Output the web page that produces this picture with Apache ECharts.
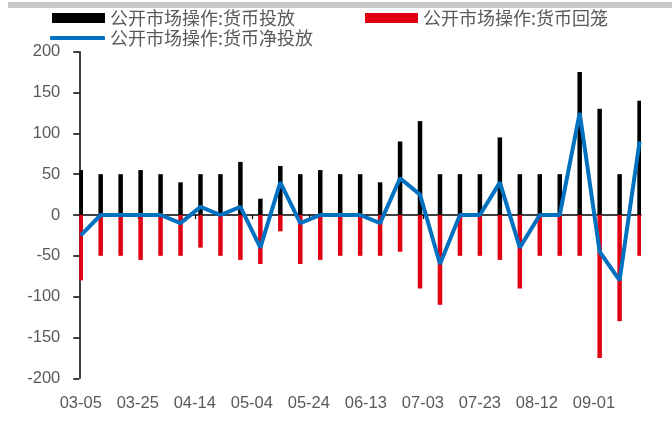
<!DOCTYPE html>
<html>
<head>
<meta charset="utf-8">
<script src="https://cdn.jsdelivr.net/npm/echarts@6/dist/echarts.min.js"></script>
<style>html,body{margin:0;padding:0;background:#fff}#c{width:672px;height:441px}</style>
</head>
<body>
<div id="c"></div>
<script>
// weekly observation dates (MM-DD)
const weekDates = ['03-05','03-12','03-19','03-26','04-02','04-09','04-16','04-23','04-30','05-07','05-14','05-21','05-28','06-04','06-11','06-18','06-25','07-02','07-09','07-16','07-23','07-30','08-06','08-13','08-20','08-27','09-03','09-10','09-17'];
const injectVals = [55,50,50,55,50,40,50,50,65,20,60,50,55,50,50,40,90,115,50,50,50,95,50,50,50,175,130,50,140];
const withdrawVals = [-80,-50,-50,-55,-50,-50,-40,-50,-55,-60,-20,-60,-55,-50,-50,-50,-45,-90,-110,-50,-50,-55,-90,-50,-50,-50,-175,-130,-50];
const netVals = [-25,0,0,0,0,-10,10,0,10,-40,40,-10,0,0,0,-10,45,25,-60,0,0,40,-40,0,0,125,-45,-80,90];
const tickLabels = ['03-05','03-25','04-14','05-04','05-24','06-13','07-03','07-23','08-12','09-01'];
const yTicks = [-200,-150,-100,-50,0,50,100,150,200];
const seriesNames = ['公开市场操作:货币投放','公开市场操作:货币回笼','公开市场操作:货币净投放'];

// build a daily category axis spanning the weekly dates
function pad(n){return (n<10?'0':'')+n;}
const days = [];
{
  const start = new Date(2021, 2, 5);
  const end = new Date(2021, 8, 17);
  for (let d = new Date(start); d <= end; d.setDate(d.getDate()+1)) {
    days.push(pad(d.getMonth()+1) + '-' + pad(d.getDate()));
  }
}
function toDaily(vals){
  const m = {};
  weekDates.forEach((w,i)=>{m[w]=vals[i];});
  return days.map(d => (d in m) ? m[d] : null);
}
const showTick = (idx, val) => tickLabels.indexOf(val) >= 0;

const chart = echarts.init(document.getElementById('c'));
const txt = '#595959';
chart.setOption({
  animation: false,
  graphic: [{type:'rect', left: 8, top: 2, shape:{width: 664, height: 6}, style:{fill:'#C8C8C8'}}],
  legend: [
    {data:[{name:seriesNames[0], icon:'rect'},{name:seriesNames[1], icon:'rect'}], left: 47, top: 4,
     itemWidth: 53, itemHeight: 10, itemGap: 70,
     textStyle:{color: txt, fontSize: 18, fontFamily:'Noto Sans CJK SC'}},
    {data:[{name:seriesNames[2], icon:'roundRect'}], left: 45, top: 24, itemWidth: 55, itemHeight: 4,
     textStyle:{color: txt, fontSize: 18, fontFamily:'Noto Sans CJK SC'}}
  ],
  grid: {left: 79.3, right: 31, top: 51.7, bottom: 62.7},
  xAxis: [
    {type:'category', data: days, boundaryGap: true,
     axisLine:{onZero:true, lineStyle:{color:'#000', width:1.5}},
     axisTick:{show:true, interval: showTick, alignWithLabel:true, length:4, lineStyle:{color:'#000', width:1.2}},
     axisLabel:{show:false}},
    {type:'category', data: days, position:'bottom', boundaryGap: true,
     axisLine:{show:false}, axisTick:{show:false},
     axisLabel:{show:true, interval: showTick, color: txt, fontSize: 16.5, fontFamily:'Liberation Sans', margin: 17}}
  ],
  yAxis: {type:'value', min: yTicks[0], max: yTicks[yTicks.length-1], interval: 50,
    axisLine:{show:true, lineStyle:{color:'#000', width:1.5}},
    axisTick:{show:true, length:6, inside:false, lineStyle:{color:'#000', width:1.5}},
    splitLine:{show:false},
    axisLabel:{color: txt, fontSize: 16.5, fontFamily:'Liberation Sans', margin: 19}},
  series: [
    {name: seriesNames[0], type:'bar', stack:'ops', xAxisIndex:0, data: toDaily(injectVals), barWidth: 4.5, itemStyle:{color:'#000000'}},
    {name: seriesNames[1], type:'bar', stack:'ops', xAxisIndex:0, data: toDaily(withdrawVals), barWidth: 4.5, itemStyle:{color:'#E00012'}},
    {name: seriesNames[2], type:'line', xAxisIndex:0, data: toDaily(netVals), connectNulls: true, showSymbol:false, symbol:'none',
     lineStyle:{color:'#0070C0', width:4}, itemStyle:{color:'#0070C0'}, z: 5}
  ]
});
</script>
</body>
</html>
